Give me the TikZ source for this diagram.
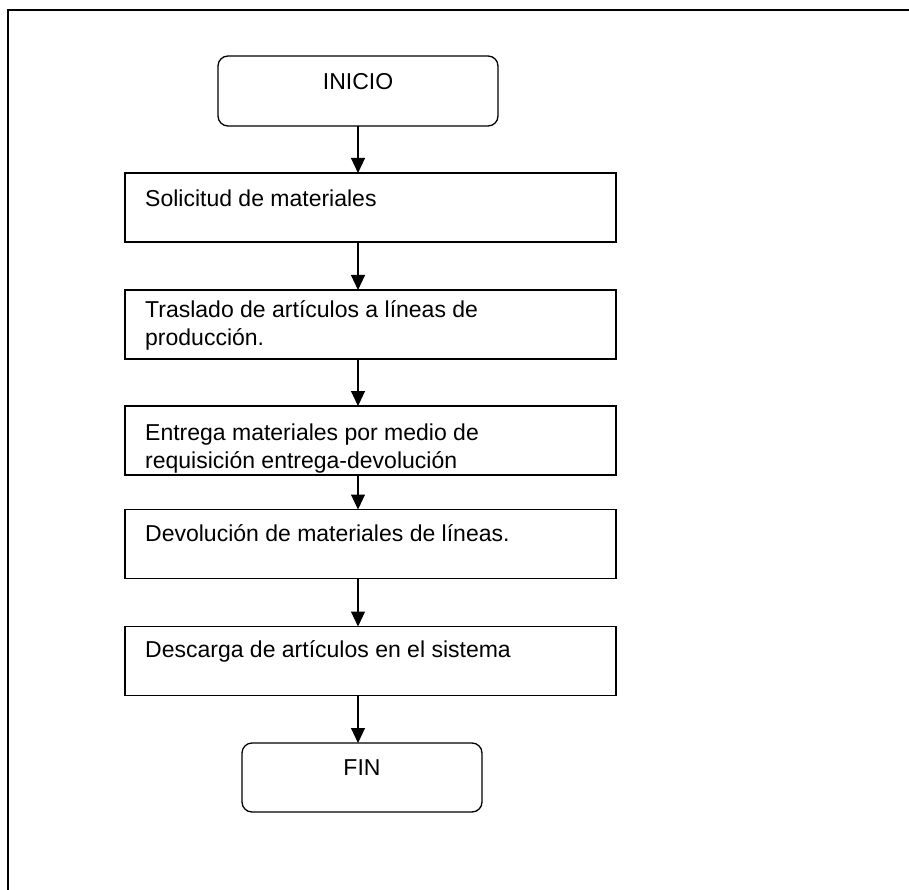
\documentclass[tikz,border=0pt]{standalone}
\usepackage{fontspec}
\setmainfont{Liberation Sans}
\usetikzlibrary{arrows.meta}
\begin{document}
\begin{tikzpicture}[x=1pt,y=-1pt,
  stepbox/.style={draw,line width=1.3pt,minimum width=491pt,minimum height=69pt,inner sep=0pt,outer sep=0pt},
  termbox/.style={draw,line width=1.3pt,rounded corners=10pt,inner sep=0pt,outer sep=0pt},
  boxtext/.style={anchor=base west,inner sep=0pt,align=left,font=\fontsize{23}{28}\selectfont},
  termtext/.style={anchor=base,inner sep=0pt,font=\fontsize{23}{28}\selectfont},
  flow/.style={line width=1.1pt,-{Triangle[length=15pt,width=14pt]}}]
\useasboundingbox (0,0) rectangle (909,890);
% outer frame
\draw[line width=1.3pt] (8,900) -- (8,10) -- (920,10);

% terminals
\node[termbox,minimum width=280pt,minimum height=70pt] (inicio) at (358,91) {};
\node[termtext] (inicioT) at (358,90) {INICIO};
\node[termbox,minimum width=240pt,minimum height=69pt] (fin) at (362,777.5) {};
\node[termtext] (finT) at (362,775) {FIN};

% process steps
\node[stepbox] (s1) at (370.5,207.5) {};
\node[stepbox] (s2) at (370.5,324.5) {};
\node[stepbox] (s3) at (370.5,440.5) {};
\node[stepbox] (s4) at (370.5,544) {};
\node[stepbox] (s5) at (370.5,661) {};

% step labels (base anchor sits on the last line)
\node[boxtext] (s1T) at (145,207) {Solicitud de materiales};
\node[boxtext] (s2T) at (145,345) {Traslado de artículos a líneas de\\producción.};
\node[boxtext] (s3T) at (145,468) {Entrega materiales por medio de\\requisición entrega-devolución};
\node[boxtext] (s4T) at (145,541) {Devolución de materiales de líneas.};
\node[boxtext] (s5T) at (145,657) {Descarga de artículos en el sistema};

% connectors
\draw[flow] (inicio.south) -- (inicio.south |- s1.north);
\draw[flow] (inicio.south |- s1.south) -- (inicio.south |- s2.north);
\draw[flow] (inicio.south |- s2.south) -- (inicio.south |- s3.north);
\draw[flow] (inicio.south |- s3.south) -- (inicio.south |- s4.north);
\draw[flow] (inicio.south |- s4.south) -- (inicio.south |- s5.north);
\draw[flow] (inicio.south |- s5.south) -- (inicio.south |- fin.north);
\end{tikzpicture}
\end{document}
